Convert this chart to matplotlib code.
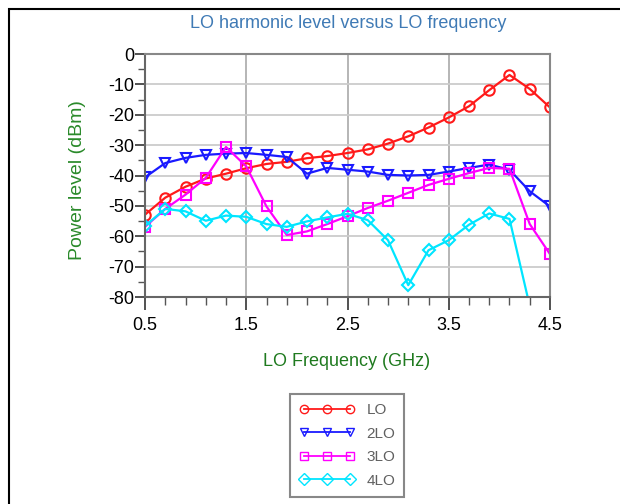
import matplotlib.pyplot as plt
import numpy as np
from matplotlib.patches import Rectangle
from matplotlib.ticker import FixedLocator

plt.rcParams['font.family'] = ['Liberation Sans', 'DejaVu Sans']

# LO frequency points (GHz)
freq = [0.5, 0.7, 0.9, 1.1, 1.3, 1.5, 1.7, 1.9, 2.1, 2.3, 2.5,
        2.7, 2.9, 3.1, 3.3, 3.5, 3.7, 3.9, 4.1, 4.3, 4.5]

# harmonic levels (dBm)
lo_1 = [-52.9, -47.3, -43.7, -41.0, -39.4, -37.6, -36.2, -35.5, -34.3, -33.6, -32.6,
        -31.4, -29.5, -27.1, -24.2, -20.9, -17.2, -11.9, -6.9, -11.5, -17.6]
lo_2 = [-40.6, -35.9, -34.2, -33.2, -32.8, -32.6, -33.2, -33.9, -39.4, -37.5, -38.1,
        -38.7, -39.8, -40.0, -39.8, -38.7, -37.5, -36.4, -38.1, -45.2, -50.2]
lo_3 = [-56.9, -51.0, -46.3, -40.8, -30.6, -37.0, -50.2, -59.6, -58.4, -56.0, -53.4,
        -50.7, -48.3, -45.7, -43.1, -41.1, -39.2, -37.5, -37.8, -56.0, -65.9]
lo_4 = [-56.6, -51.0, -51.8, -54.9, -53.2, -53.6, -56.0, -56.9, -55.1, -53.8, -52.6,
        -54.7, -61.3, -76.1, -64.6, -61.3, -56.2, -52.5, -54.3, -83.0, np.nan]

labels = ['LO', '2LO', '3LO', '4LO']
x_ticks = [0.5, 1.5, 2.5, 3.5, 4.5]
y_ticks = [-80, -70, -60, -50, -40, -30, -20, -10, 0]
y_minor = [-75, -65, -55, -45, -35, -25, -15, -5]

W, H = 620, 504
fig = plt.figure(figsize=(W / 100, H / 100), dpi=100)
ax = fig.add_axes([145 / W, 1 - 297 / H, 405 / W, 243 / H])

series = [
    (lo_1, '#ff1a1a', 'o'),
    (lo_2, '#1a1aff', 'v'),
    (lo_3, '#ff00ff', 's'),
    (lo_4, '#00e5ff', 'D'),
]
for (vals, col, mk), lab in zip(series, labels):
    ms = 6.5 if mk == 'D' else 7.5
    ax.plot(freq, vals, color=col, lw=1.6, marker=mk, ms=ms, mfc='none',
            mec=col, mew=1.5, label=lab)

ax.set_xlim(0.5, 4.5)
ax.set_ylim(-80, 0)
ax.xaxis.set_major_locator(FixedLocator(x_ticks))
ax.xaxis.set_minor_locator(FixedLocator(freq))
ax.yaxis.set_major_locator(FixedLocator(y_ticks))
ax.yaxis.set_minor_locator(FixedLocator(y_minor))
ax.set_xticklabels([str(v) for v in x_ticks])
ax.set_yticklabels([str(v) for v in y_ticks])

ax.tick_params(axis='x', which='major', length=9.5, width=1.2, color='#333333',
               pad=5, labelsize=13)
ax.tick_params(axis='x', which='minor', length=5.5, width=1.0, color='#555555')
ax.tick_params(axis='y', which='major', length=7, width=1.2, color='#333333',
               pad=1, labelsize=13)
ax.tick_params(axis='y', which='minor', length=5, width=1.0, color='#555555')

ax.grid(axis='y', which='major', color='#cccccc', lw=1.3)
ax.grid(axis='x', which='major', color='#b0b0b0', lw=1.3)
ax.set_axisbelow(True)
for sp in ax.spines.values():
    sp.set_color('#888888')
    sp.set_linewidth(1.5)
ax.spines['left'].set_color('#666666')
ax.spines['bottom'].set_color('#666666')

fig.text(348 / W, 1 - 23 / H, 'LO harmonic level versus LO frequency',
         ha='center', va='center', fontsize=13, color='#3f7ab5')
fig.text(347 / W, 1 - 362 / H, 'LO Frequency (GHz)', ha='center', va='center',
         fontsize=13, color='#1f7a1f')
fig.text(77 / W, 1 - 180 / H, 'Power level (dBm)', ha='center', va='center',
         rotation=90, fontsize=14, color='#2a8a2a')

leg = fig.legend(loc='upper left', bbox_to_anchor=(290 / W, 1 - 394 / H),
                 borderaxespad=0, numpoints=3, handlelength=3.6,
                 handletextpad=0.8, labelspacing=0.62, borderpad=0.6,
                 fontsize=11, fancybox=False, edgecolor='#888888',
                 framealpha=1)
leg.get_frame().set_linewidth(1.5)
for t in leg.get_texts():
    t.set_color('#606060')
for ln in leg.get_lines():
    ln.set_linewidth(1.3)
    ln.set_markersize(6)
    ln.set_markeredgewidth(1.0)

fig.add_artist(Rectangle((9 / W, -0.1), 1.2, 1.1 - 9 / H, transform=fig.transFigure,
                         fill=False, edgecolor='black', lw=1.5, clip_on=False))

fig.savefig('out.png', dpi=100)
